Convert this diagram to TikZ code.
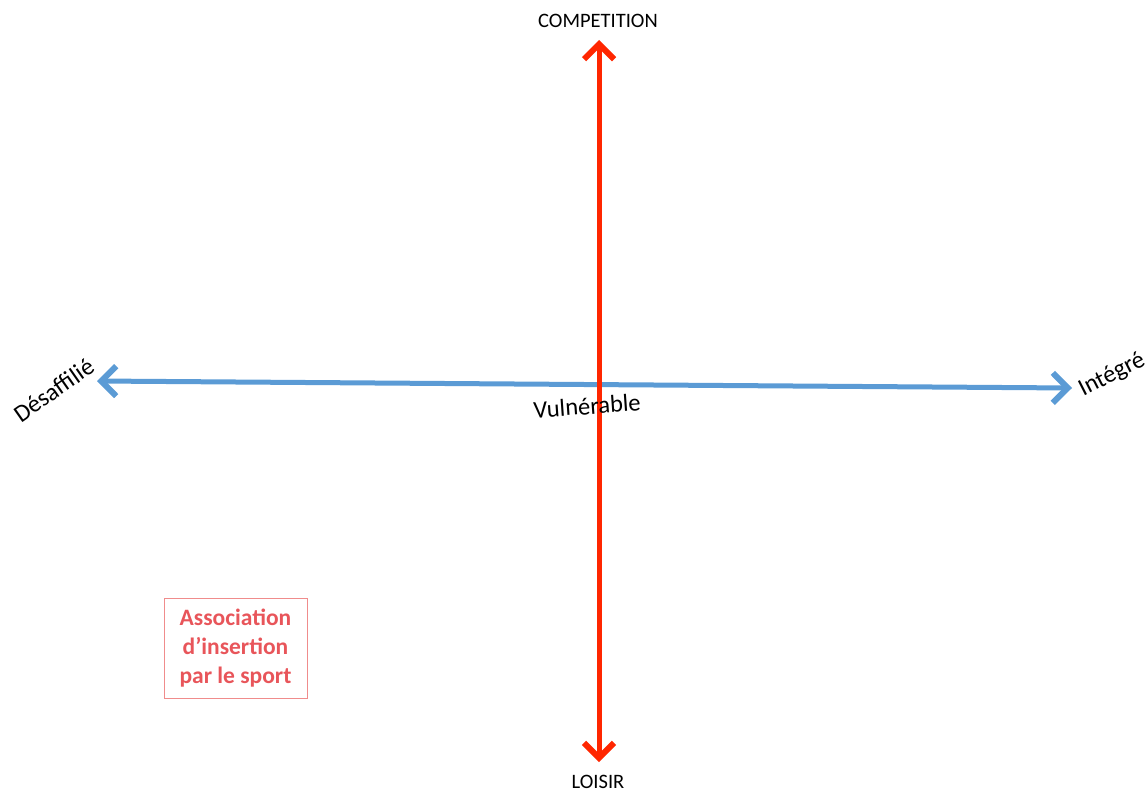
\documentclass[tikz,border=0pt]{standalone}
\usepackage{fontspec}
\setmainfont{Carlito}
\usetikzlibrary{arrows.meta}
\definecolor{axred}{RGB}{255,38,0}
\definecolor{axblue}{RGB}{91,155,213}
\definecolor{boxred}{RGB}{232,85,90}
\definecolor{boxline}{RGB}{240,140,140}
\tikzset{
  axlabel/.style={font=\fontsize{20.5}{24}\selectfont, text=black, inner sep=0pt},
  poslabel/.style={font=\fontsize{24.5}{28}\selectfont, text=black, inner sep=0pt},
  mybarb/.tip={Straight Barb[length=15pt,width=30pt,line width=6pt]},
  redaxis/.style={draw=axred, line width=5pt, {mybarb}-{mybarb}},
  blueaxis/.style={draw=axblue, line width=5pt, {mybarb}-{mybarb}},
  assocbox/.style={draw=boxline, line width=1pt, text=boxred, font=\bfseries\fontsize{23.5}{29}\selectfont, align=center, minimum width=143pt, minimum height=100pt, inner sep=0pt}
}
\begin{document}
\begin{tikzpicture}[x=1pt,y=-1pt]
\useasboundingbox (0,0) rectangle (1148,792);
\coordinate (L) at (97,381);
\coordinate (R) at (1072,388);
\coordinate (T) at (599,40);
\coordinate (B) at (599,762);
\draw[blueaxis] (L) -- (R);
\draw[redaxis] (B) -- (T);
\node[axlabel] (comp) at (598,21) {COMPETITION};
\node[axlabel] (lois) at (598,782) {LOISIR};
\node[poslabel, rotate=35] (des) at (54,390) {Désaffilié};
\node[poslabel, rotate=27] (int) at (1112,375) {Intégré};
\node[poslabel, rotate=4] (vul) at (587,406) {Vulnérable};
\node[assocbox] (assoc) at (235.5,648) {Association\\d’insertion\\par le sport};
\end{tikzpicture}
\end{document}
